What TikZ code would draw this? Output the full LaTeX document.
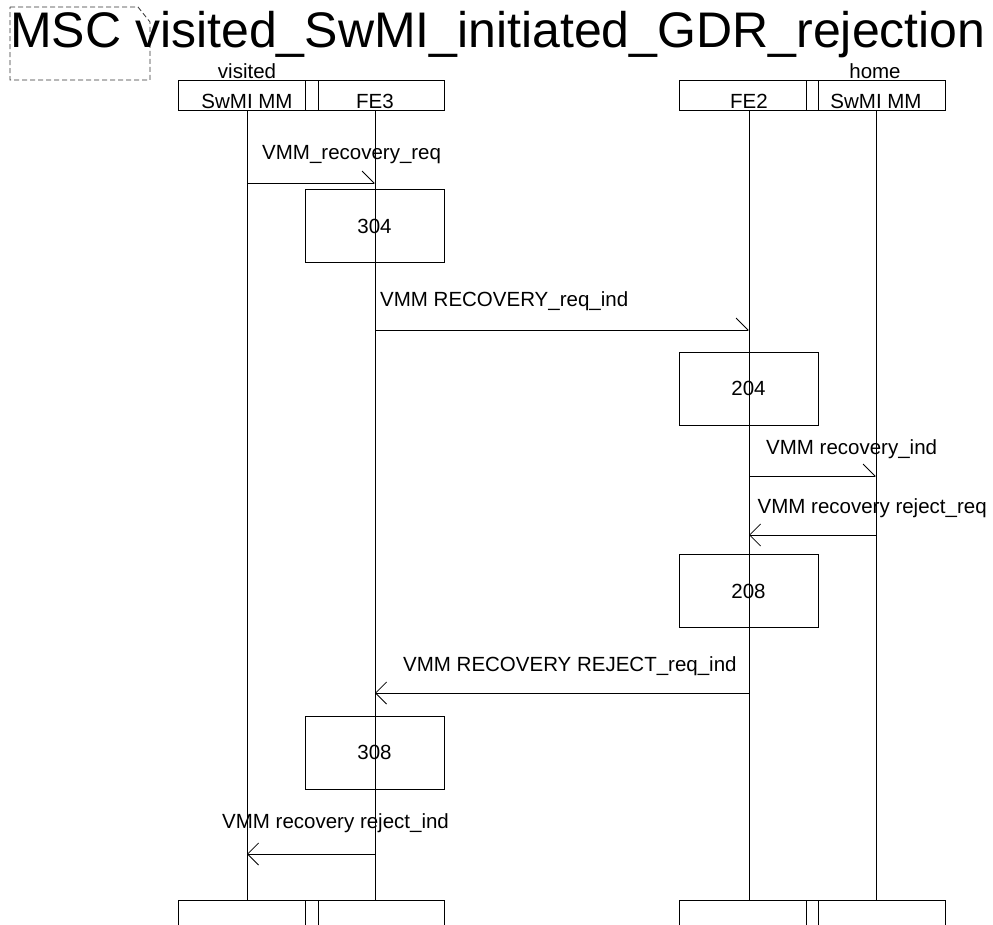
\documentclass[tikz,border=0pt]{standalone}
\usepackage{fontspec}
\setmainfont{Liberation Sans}
\usetikzlibrary{arrows.meta}
\begin{document}
\begin{tikzpicture}[x=1pt,y=-1pt,
  lbl/.style={font=\fontsize{20.5}{21}\selectfont, anchor=base west, inner sep=0pt},
  hdr/.style={font=\fontsize{20.5}{21}\selectfont, anchor=base, inner sep=0pt},
  frame/.style={draw, line width=0.8pt},
  act/.style={draw, line width=0.8pt, minimum width=139pt, minimum height=73pt, font=\fontsize{20.5}{21}\selectfont, inner sep=0pt},
  msgR/.style={line width=0.8pt, -{Straight Barb[harpoon,length=12pt,width=24pt,line width=0.8pt]}},
  msgL/.style={line width=0.8pt, -{Straight Barb[length=11pt,width=22pt,line width=0.8pt]}},
  life/.style={line width=0.8pt}]
\clip (0,0) rectangle (993,925);
\fill[white] (0,0) rectangle (993,925);
% title and dashed frame
\draw[line width=0.8pt, dash pattern=on 5pt off 3pt, black!80] (10,7) -- (138,7) -- (150,22) -- (150,80) -- (10,80) -- cycle;
\node[anchor=base west, inner sep=0pt, font=\fontsize{50}{50}\selectfont] (title) at (10,48) {MSC visited\_SwMI\_initiated\_GDR\_rejection};
% header boxes
\draw[frame] (178,80) rectangle (305,110);
\draw[frame] (305,80) rectangle (318,110);
\draw[frame] (318,80) rectangle (444,110);
\draw[frame] (679,80) rectangle (806,110);
\draw[frame] (806,80) rectangle (818,110);
\draw[frame] (818,80) rectangle (945,110);
\node[hdr] (lv) at (247,79) {visited};
\node[hdr] (hv) at (875,79) {home};
\node[hdr] (iA) at (247,108.5) {SwMI MM};
\node[hdr] (iB) at (375,108.5) {FE3};
\node[hdr] (iC) at (749,108.5) {FE2};
\node[hdr] (iD) at (876,108.5) {SwMI MM};
% bottom boxes
\draw[frame] (178,900) rectangle (305,940);
\draw[frame] (305,900) rectangle (318,940);
\draw[frame] (318,900) rectangle (444,940);
\draw[frame] (679,900) rectangle (806,940);
\draw[frame] (806,900) rectangle (818,940);
\draw[frame] (818,900) rectangle (945,940);
% lifelines
\coordinate (At) at (247,110); \coordinate (Ab) at (247,900);
\coordinate (Bt) at (375,110); \coordinate (Bb) at (375,900);
\coordinate (Ct) at (749,110); \coordinate (Cb) at (749,900);
\coordinate (Dt) at (876,110); \coordinate (Db) at (876,900);
\draw[life] (At) -- (Ab);
\draw[life] (Bt) -- (Bb);
\draw[life] (Ct) -- (Cb);
\draw[life] (Dt) -- (Db);
% action boxes
\node[act] (a304) at (374.5,226) {304};
\node[act] (a204) at (748.5,388.5) {204};
\node[act] (a208) at (748.5,591) {208};
\node[act] (a308) at (374.5,752.5) {308};
% messages
\coordinate (m1s) at (247,183); \coordinate (m1e) at (375,183);
\draw[msgR] (m1s) -- (m1e);
\node[lbl] (l1) at (262,160) {VMM\_recovery\_req};
\coordinate (m2s) at (375,330); \coordinate (m2e) at (749,330);
\draw[msgR] (m2s) -- (m2e);
\node[lbl] (l2) at (380,307) {VMM RECOVERY\_req\_ind};
\coordinate (m3s) at (749,476); \coordinate (m3e) at (876,476);
\draw[msgR] (m3s) -- (m3e);
\node[lbl] (l3) at (766,454) {VMM recovery\_ind};
\coordinate (m4s) at (876,535); \coordinate (m4e) at (749,535);
\draw[msgL] (m4s) -- (m4e);
\node[lbl] (l4) at (757.5,513) {VMM recovery reject\_req};
\coordinate (m5s) at (749,693); \coordinate (m5e) at (375,693);
\draw[msgL] (m5s) -- (m5e);
\node[lbl] (l5) at (403,671) {VMM RECOVERY REJECT\_req\_ind};
\coordinate (m6s) at (375,854); \coordinate (m6e) at (247,854);
\draw[msgL] (m6s) -- (m6e);
\node[lbl] (l6) at (222,828) {VMM recovery reject\_ind};
\end{tikzpicture}
\end{document}
